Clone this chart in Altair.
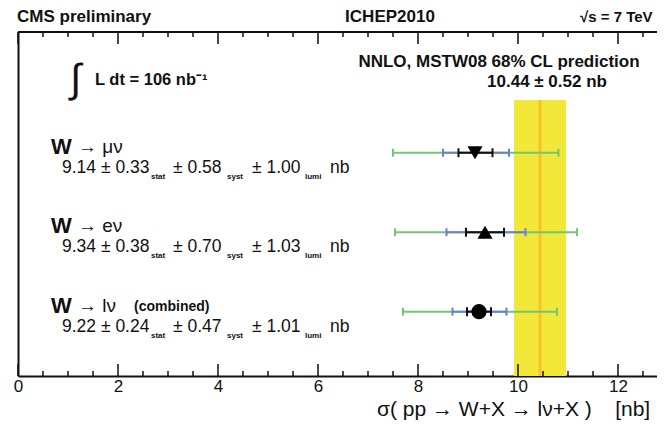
import altair as alt
import pandas as pd

# ---------------- data ----------------
channels = ["μν", "eν", "lν"]
row_pos = [3, 2, 1]
central = [9.14, 9.34, 9.22]
stat_txt = ["0.33", "0.38", "0.24"]
syst_txt = ["0.58", "0.70", "0.47"]
lumi_txt = ["1.00", "1.03", "1.01"]
extra_txt = ["", "", "(combined)"]
marker_shapes = ["triangle-down", "triangle-up", "circle"]

black_lo = [8.81, 8.96, 8.98]
black_hi = [9.49, 9.72, 9.46]
blue_lo = [8.50, 8.57, 8.69]
blue_hi = [9.82, 10.15, 9.77]
green_lo = [7.50, 7.54, 7.70]
green_hi = [10.81, 11.18, 10.78]

pred_value = [10.44]
pred_lo = [9.92]
pred_hi = [10.96]

major_ticks = [0, 2, 4, 6, 8, 10, 12]
minor_ticks = [0.5, 1, 1.5, 2.5, 3, 3.5, 4.5, 5, 5.5, 6.5, 7, 7.5,
               8.5, 9, 9.5, 10.5, 11, 11.5, 12.5]

# ---------------- styling ----------------
FONT = "Liberation Sans"
W, H = 639, 344
GREEN = "#72c872"
BLUE = "#6a7fd4"
BLACK = "#111111"
YELLOW = "#f2e83a"
ORANGE = "#f7c22a"
NB = "\u00a0"

xs = alt.Scale(domain=[0, 12.78], nice=False, zero=False)
ys = alt.Scale(domain=[0.19, 4.52], nice=False, zero=False)
xax = alt.Axis(values=major_ticks, title=None, grid=False, ticks=False,
               domain=True, domainColor=BLACK, domainWidth=2,
               labelFont=FONT, labelFontSize=17, labelColor=BLACK,
               labelPadding=2, format="d", labelFlush=False)
yax = alt.Axis(title=None, grid=False, ticks=False, labels=False,
               domain=True, domainColor=BLACK, domainWidth=2)


def X(f):
    return alt.X(f"{f}:Q", scale=xs, axis=xax)


def Y(f):
    return alt.Y(f"{f}:Q", scale=ys, axis=yax)


rows = pd.DataFrame({
    "ch": channels, "row": row_pos, "c": central,
    "main1": [f"{c:.2f} ± {s}" for c, s in zip(central, stat_txt)],
    "main2": [f"± {s}" for s in syst_txt],
    "main3": [f"± {s}" for s in lumi_txt],
    "label": [f"→ {ch}" for ch in channels],
    "extra": extra_txt,
})

pred = pd.DataFrame({"c": pred_value, "lo": pred_lo, "hi": pred_hi})

layers = []

# prediction band and central line
layers.append(alt.Chart(pred).mark_rect(color=YELLOW).encode(
    x=X("lo"), x2="hi", y=alt.value(68), y2=alt.value(H)))
layers.append(alt.Chart(pred).mark_rule(color=ORANGE, strokeWidth=3).encode(
    x=X("c"), y=alt.value(68), y2=alt.value(H)))

# error bars: green (outer), blue, black (inner)
for lo, hi, col, cap in [(green_lo, green_hi, GREEN, 4),
                         (blue_lo, blue_hi, BLUE, 4),
                         (black_lo, black_hi, BLACK, 4.5)]:
    d = pd.DataFrame({"row": row_pos, "lo": lo, "hi": hi})
    layers.append(alt.Chart(d).mark_rule(color=col, strokeWidth=2).encode(
        x=X("lo"), x2="hi", y=Y("row")))
    for f in ["lo", "hi"]:
        layers.append(alt.Chart(d).mark_rule(
            color=col, strokeWidth=2, yOffset=-cap, y2Offset=cap).encode(
            x=X(f), y=Y("row"), y2=alt.Y2("row")))

# markers
layers.append(alt.Chart(rows).mark_point(
    filled=True, color="black", opacity=1, size=230).encode(
    x=X("c"), y=Y("row"),
    shape=alt.Shape("ch:N", scale=alt.Scale(domain=channels, range=marker_shapes),
                    legend=None)))

# frame: top line and inward ticks
layers.append(alt.Chart(pred).mark_rule(color=BLACK, strokeWidth=2).encode(
    x=alt.value(0), x2=alt.value(W), y=alt.value(0)))
maj = pd.DataFrame({"t": major_ticks})
mnr = pd.DataFrame({"t": minor_ticks})
for d, ln in [(maj, 12), (mnr, 5)]:
    layers.append(alt.Chart(d).mark_rule(color=BLACK, strokeWidth=1.5).encode(
        x=X("t"), y=alt.value(H - ln), y2=alt.value(H)))
    layers.append(alt.Chart(d).mark_rule(color=BLACK, strokeWidth=1.5).encode(
        x=X("t"), y=alt.value(0), y2=alt.value(ln)))


# channel labels
def row_text(col, x, size, weight="normal", dy=0, value=None):
    m = alt.Chart(rows).mark_text(align="left", baseline="middle", font=FONT,
                                  fontSize=size, fontWeight=weight, dy=dy,
                                  color=BLACK)
    txt = alt.value(value) if value is not None else alt.Text(f"{col}:N")
    return m.encode(x=alt.value(x), y=Y("row"), text=txt)


layers.append(row_text(None, 33, 22, "bold", -6, value="W"))
layers.append(row_text("label", 60, 19, "normal", -6))
layers.append(row_text("extra", 116, 14, "bold", -5))
layers.append(row_text("main1", 44, 17.5, "normal", 15))
layers.append(row_text("main2", 155, 17.5, "normal", 15))
layers.append(row_text("main3", 234, 17.5, "normal", 15))
layers.append(row_text(None, 312, 17.5, "normal", 15, value="nb"))
layers.append(row_text(None, 133, 8, "bold", 24, value="stat"))
layers.append(row_text(None, 209, 8, "bold", 24, value="syst"))
layers.append(row_text(None, 287, 8, "bold", 24, value="lumi"))


# free annotations
def note(text, x, y, size, weight="normal", align="left"):
    return alt.Chart(pd.DataFrame({"t": [text]})).mark_text(
        align=align, baseline="middle", font=FONT, fontSize=size,
        fontWeight=weight, color=BLACK).encode(
        x=alt.value(x), y=alt.value(y), text="t:N")


layers.append(note("CMS preliminary", -1, -15, 17, "bold"))
layers.append(note("ICHEP2010", 372, -15, 17, "bold", "center"))
layers.append(note("√s = 7 TeV", 562, -15, 15, "bold"))
layers.append(note("∫", 52, 48, 40))
layers.append(note("L dt = 106 nb⁻¹", 77, 48, 16.5, "bold"))
layers.append(note("NNLO, MSTW08 68% CL prediction", 481, 30, 17, "bold", "center"))
layers.append(note("10.44 ± 0.52 nb", 529, 50, 17, "bold", "center"))
layers.append(note(f"σ( pp → W+X → lν+X ){NB}{NB}{NB}{NB}[nb]", 359, H + 34, 21))

chart = alt.layer(*layers).properties(
    width=W, height=H,
    autosize=alt.AutoSizeParams(type="none"),
    padding={"left": 10, "top": 24, "right": 0, "bottom": 46},
    background="white",
).configure_view(stroke=None)

chart.save("out.html", embed_options={"renderer": "svg", "actions": False})
